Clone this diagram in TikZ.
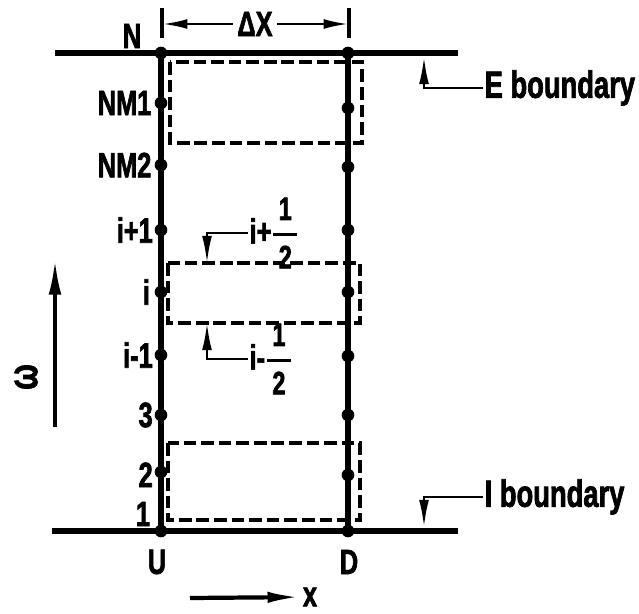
\documentclass[tikz,border=0pt]{standalone}
\usepackage{amsmath}
\usepackage{fontspec}
\setmainfont{Liberation Sans}[FakeStretch=0.72, BoldFeatures={FakeBold=1.8}]
\usetikzlibrary{arrows.meta, positioning}

\newcommand{\halffrac}{$\genfrac{}{}{2.2pt}{0}{\mbox{\fontsize{23}{23}\selectfont\hspace{4pt}1\hspace{4pt}}}{\mbox{\fontsize{23}{23}\selectfont 2}}$}

\begin{document}
\begin{tikzpicture}[x=0.025cm, y=-0.025cm, font=\fontsize{25}{28}\selectfont\bfseries,
    dot/.style={circle, fill, inner sep=0pt, minimum size=9pt},
    lbl/.style={inner sep=1pt},
    cell/.style={draw, line width=2.5pt, dash pattern=on 9pt off 3.5pt},
    leader/.style={line width=2pt, -{Latex[length=20pt, width=7pt]}}]
    \useasboundingbox (0,0) rectangle (639,613);

    % boundaries
    \coordinate (EL) at (55,53);
    \coordinate (ER) at (458,53);
    \coordinate (IL) at (52,531);
    \coordinate (IR) at (458,531);
    \draw[line width=4.5pt] (EL) -- (ER);
    \draw[line width=4.5pt] (IL) -- (IR);

    % grid points, U side and D side
    \node[dot] (LN) at (161,53) {};   \node[dot] (RN) at (348,53) {};
    \node[dot] (LM1) at (161,103) {}; \node[dot] (RM1) at (348,108) {};
    \node[dot] (LM2) at (161,165) {}; \node[dot] (RM2) at (348,167) {};
    \node[dot] (Lip) at (161,230) {}; \node[dot] (Rip) at (348,230) {};
    \node[dot] (Li) at (161,292) {};  \node[dot] (Ri) at (348,292) {};
    \node[dot] (Lim) at (161,355) {}; \node[dot] (Rim) at (348,356) {};
    \node[dot] (L3) at (161,415) {};  \node[dot] (R3) at (348,415) {};
    \node[dot] (L2) at (161,472) {};  \node[dot] (R2) at (348,475) {};
    \node[dot] (L1) at (161,531) {};  \node[dot] (R1) at (348,531) {};
    \draw[line width=3.6pt] (LN.center) -- (L1.center);
    \draw[line width=3.6pt] (RN.center) -- (R1.center);

    \node[lbl] (nN) at (132,36) {N};
    \node[lbl, left=1pt of LM1] (nM1) {NM1};
    \node[lbl, left=1pt of LM2] (nM2) {NM2};
    \node[lbl, left=0pt of Lip] (nip) {i+1};
    \node[lbl, left=2pt of Li] (ni) {i};
    \node[lbl, left=0pt of Lim] (nim) {i-1};
    \node[lbl, left=0pt of L3] (n3) {3};
    \node[lbl, left=0pt of L2, yshift=-2pt] (n2) {2};
    \node[lbl] (n1) at (143,514) {1};
    \node[lbl] (U) at (157,562) {U};
    \node[lbl] (D) at (349,562) {D};

    % control volumes
    \draw[cell] (170,62) rectangle (362,143);
    \draw[cell] (168,263) rectangle (360,323);
    \draw[cell] (168,443) rectangle (360,520);

    % i+1/2 and i-1/2 faces
    \coordinate (fp) at (207,264);
    \coordinate (fm) at (207,322);
    \node[lbl, anchor=west] (hp) at (248,233) {i+\halffrac};
    \node[lbl, anchor=west] (hm) at (248,359) {i-\halffrac};
    \draw[leader] (hp.west) -| (fp);
    \draw[leader] (hm.west) -| (fm);

    % boundary labels
    \coordinate (Etip) at (424,56);
    \coordinate (Itip) at (424,528);
    \node[lbl, anchor=west, font=\fontsize{27}{30}\selectfont\bfseries] (Eb) at (483,88) {E boundary};
    \node[lbl, anchor=west, font=\fontsize{27}{30}\selectfont\bfseries] (Ib) at (483,497) {I boundary};
    \draw[leader] (Eb.west) -| (Etip);
    \draw[leader] (Ib.west) -| (Itip);

    % spacing
    \coordinate (dxa) at (162,8);  \coordinate (dxb) at (162,38);
    \coordinate (dxc) at (349,8);  \coordinate (dxd) at (349,38);
    \coordinate (dxl) at (162,24); \coordinate (dxr) at (349,24);
    \draw[line width=2.6pt] (dxa) -- (dxb);
    \draw[line width=2.6pt] (dxc) -- (dxd);
    \node[lbl, fill=white, inner xsep=3pt] (dx) at (255,24) {ΔX};
    \draw[line width=2pt, -{Latex[length=18pt, width=7pt]}] (dx) -- (dxl);
    \draw[line width=2pt, -{Latex[length=18pt, width=7pt]}] (dx) -- (dxr);

    % axes
    \coordinate (wa) at (55,427);
    \coordinate (wb) at (55,258);
    \draw[line width=3pt, -{Latex[length=26pt, width=9pt]}] (wa) -- (wb);
    \node[lbl, rotate=90, font=\fontsize{30}{32}\selectfont\bfseries] (om) at (26,377) {ω};
    \coordinate (xa) at (190,598);
    \node[lbl] (xl) at (310,597) {x};
    \draw[line width=3pt, -{Latex[length=24pt, width=8pt]}] (xa) -- (xl);
\end{tikzpicture}
\end{document}
